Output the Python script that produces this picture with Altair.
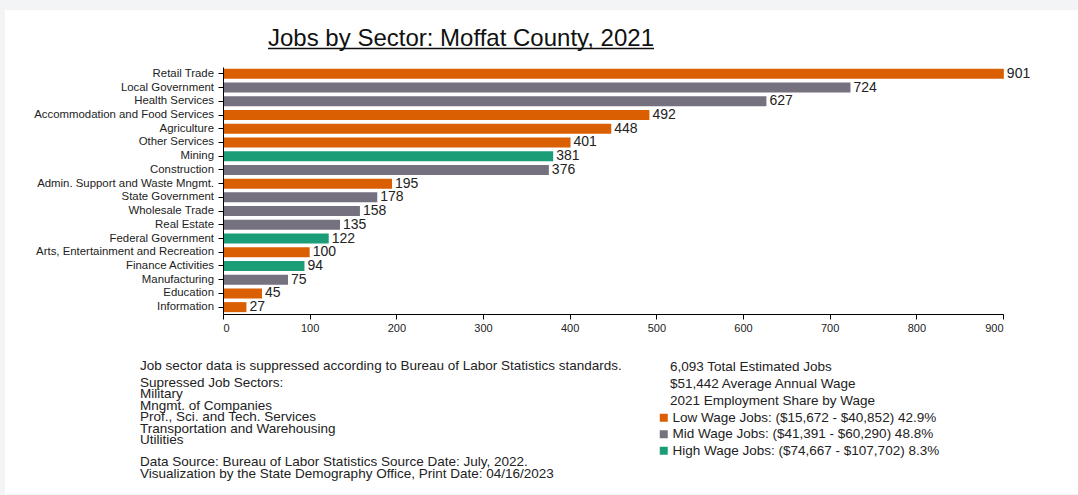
import altair as alt
import pandas as pd

# ---- data ----
sectors = [
    "Retail Trade", "Local Government", "Health Services",
    "Accommodation and Food Services", "Agriculture", "Other Services",
    "Mining", "Construction", "Admin. Support and Waste Mngmt.",
    "State Government", "Wholesale Trade", "Real Estate",
    "Federal Government", "Arts, Entertainment and Recreation",
    "Finance Activities", "Manufacturing", "Education", "Information",
]
jobs = [901, 724, 627, 492, 448, 401, 381, 376, 195, 178, 158, 135, 122, 100, 94, 75, 45, 27]
wage_tier = ["Low", "Mid", "Mid", "Low", "Low", "Low", "High", "Mid", "Low",
             "Mid", "Mid", "Mid", "High", "Low", "High", "Mid", "Low", "Low"]

tiers = ["Low", "Mid", "High"]
tier_ranges = ["($15,672 - $40,852)", "($41,391 - $60,290)", "($74,667 - $107,702)"]
tier_shares = ["42.9%", "48.8%", "8.3%"]
tier_colors = ["#d95f02", "#76717f", "#1b9e77"]

x_ticks = [0, 100, 200, 300, 400, 500, 600, 700, 800, 900]

title_text = "Jobs by Sector: Moffat County, 2021"
note_line = "Job sector data is suppressed according to Bureau of Labor Statistics standards."
suppressed_lines = ["Supressed Job Sectors:", "Military", "Mngmt. of Companies",
                    "Prof., Sci. and Tech. Services", "Transportation and Warehousing", "Utilities"]
source_lines = ["Data Source: Bureau of Labor Statistics Source Date: July, 2022.",
                "Visualization by the State Demography Office, Print Date: 04/16/2023"]
summary_lines = ["6,093 Total Estimated Jobs", "$51,442 Average Annual Wage",
                 "2021 Employment Share by Wage"]

tier_labels = [f"{t} Wage Jobs: {r} {s}" for t, r, s in zip(tiers, tier_ranges, tier_shares)]
tier_map = dict(zip(tiers, tier_labels))

df = pd.DataFrame({
    "sector": sectors,
    "jobs": jobs,
    "tier": [tier_map[t] for t in wage_tier],
})

FONT = "Liberation Sans"
OX, OY = 223, 67  # plot origin in page pixels (used for decorative placement only)
FS = 13.5

base = alt.Chart(df)

panel = alt.Chart(alt.Data(values=[{}])).mark_rect(color="white").encode(
    x=alt.value(5 - OX), x2=alt.value(1078 - OX),
    y=alt.value(10 - OY), y2=alt.value(494 - OY),
)

bars = base.mark_bar().encode(
    y=alt.Y("sector:N", sort=sectors,
            scale=alt.Scale(paddingInner=0.27, paddingOuter=0.135),
            axis=alt.Axis(title=None, labelFontSize=11.4, labelColor="#222",
                          labelFont=FONT, tickSize=5, tickColor="#000",
                          domainColor="#000", labelPadding=4.5, labelLimit=300,
                          zindex=1)),
    x=alt.X("jobs:Q", scale=alt.Scale(domain=[0, 900], nice=False),
            axis=alt.Axis(title=None, values=x_ticks, labelFontSize=11,
                          labelFont=FONT, labelColor="#222", tickSize=5,
                          tickColor="#000", domainColor="#000", grid=False,
                          labelPadding=3, format="d", zindex=1)),
    color=alt.Color("tier:N", scale=alt.Scale(domain=tier_labels, range=tier_colors),
                    legend=alt.Legend(title=None, orient="none", legendX=434, legendY=344,
                                      symbolType="square", symbolSize=64,
                                      symbolStrokeWidth=0, labelFontSize=FS,
                                      labelFont=FONT, labelColor="#222",
                                      labelLimit=500, rowPadding=1.5,
                                      labelOffset=2, zindex=1)),
)

values = base.mark_text(align="left", baseline="middle", dx=3, fontSize=14,
                        font=FONT, color="#222").encode(
    y=alt.Y("sector:N", sort=sectors),
    x=alt.X("jobs:Q"),
    text=alt.Text("jobs:Q"),
)

one = alt.Data(values=[{}])

title = alt.Chart(one).mark_text(text=title_text, fontSize=24, font=FONT,
                                 align="center", baseline="alphabetic",
                                 color="#111").encode(
    x=alt.value(461 - OX), y=alt.value(46 - OY))
underline = alt.Chart(one).mark_rule(color="#111", strokeWidth=1.3).encode(
    x=alt.value(268 - OX), x2=alt.value(654 - OX), y=alt.value(48.5 - OY))

note = alt.Chart(one).mark_text(text=note_line, fontSize=FS, font=FONT,
                                align="left", baseline="middle", color="#222").encode(
    x=alt.value(140 - OX), y=alt.value(366 - OY))
supp = alt.Chart(one).mark_text(text=suppressed_lines, fontSize=FS, font=FONT,
                                align="left", baseline="top", lineHeight=11.4,
                                color="#222").encode(
    x=alt.value(140 - OX), y=alt.value(376 - OY))
src = alt.Chart(one).mark_text(text=source_lines, fontSize=FS, font=FONT,
                               align="left", baseline="top", lineHeight=11.5,
                               color="#222").encode(
    x=alt.value(140 - OX), y=alt.value(455 - OY))
summ = alt.Chart(one).mark_text(text=summary_lines, fontSize=FS, font=FONT,
                                align="left", baseline="top", lineHeight=16.8,
                                color="#222").encode(
    x=alt.value(670 - OX), y=alt.value(360 - OY))

chart = alt.layer(panel, bars, values, title, underline, note, supp, src, summ).properties(
    width=780, height=247,
    padding={"left": OX, "top": OY, "right": 1078 - OX - 780, "bottom": 495 - OY - 247},
    autosize=alt.AutoSizeParams(type="none"),
    background="#f3f4f6",
).configure_view(stroke=None)

chart.save("out.html", embed_options={"renderer": "svg", "actions": False})
